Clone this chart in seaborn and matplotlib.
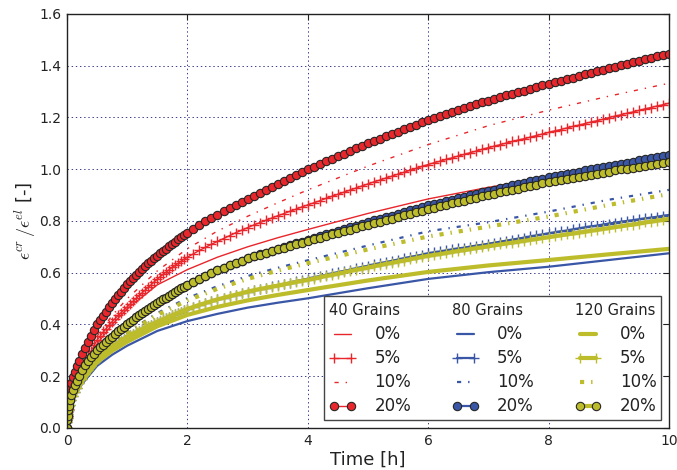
import matplotlib
matplotlib.use("Agg")
import matplotlib.pyplot as plt
import seaborn as sns
from matplotlib.lines import Line2D

# sampling times [h]: dense grid for the marker curves, sparse grid for plain lines
T_DENSE = [0, 0.005, 0.01, 0.02, 0.03, 0.05, 0.07, 0.1, 0.13, 0.16, 0.2, 0.25, 0.3,
           0.35, 0.4, 0.45, 0.5, 0.55, 0.6, 0.65, 0.7, 0.75, 0.8, 0.85, 0.9, 0.95,
           1.0, 1.05, 1.1, 1.15, 1.2, 1.25, 1.3, 1.35, 1.4, 1.45,
           1.5, 1.55, 1.6, 1.65, 1.7, 1.75, 1.8, 1.85, 1.9, 1.95, 2.0,
           2.1, 2.2, 2.3, 2.4, 2.5, 2.6, 2.7, 2.8, 2.9, 3.0,
           3.1, 3.2, 3.3, 3.4, 3.5, 3.6, 3.7, 3.8, 3.9, 4.0,
           4.1, 4.2, 4.3, 4.4, 4.5, 4.6, 4.7, 4.8, 4.9, 5.0,
           5.1, 5.2, 5.3, 5.4, 5.5, 5.6, 5.7, 5.8, 5.9, 6.0,
           6.1, 6.2, 6.3, 6.4, 6.5, 6.6, 6.7, 6.8, 6.9, 7.0,
           7.1, 7.2, 7.3, 7.4, 7.5, 7.6, 7.7, 7.8, 7.9, 8.0,
           8.1, 8.2, 8.3, 8.4, 8.5, 8.6, 8.7, 8.8, 8.9, 9.0,
           9.1, 9.2, 9.3, 9.4, 9.5, 9.6, 9.7, 9.8, 9.9, 10.0]
T_SPARSE = [0, 0.02, 0.05, 0.1, 0.25, 0.5, 0.75, 1, 1.5, 2, 2.5, 3, 3.5, 4, 5, 6, 7, 8, 9, 10]

# 40 grains
R0 = [0, 0.05, 0.10, 0.145, 0.22, 0.325, 0.40, 0.46, 0.553, 0.612, 0.66, 0.70, 0.735, 0.767,
      0.829, 0.885, 0.93, 0.968, 1.005, 1.04]
R5 = [0, 0.03, 0.045, 0.06, 0.075, 0.11, 0.13, 0.155, 0.172, 0.19, 0.21, 0.23, 0.252,
      0.275, 0.297, 0.319, 0.34, 0.355, 0.37, 0.384, 0.398, 0.411, 0.423, 0.435, 0.446, 0.457,
      0.468, 0.479, 0.490, 0.501, 0.512, 0.523, 0.533, 0.544, 0.554, 0.565,
      0.575, 0.585, 0.594, 0.603, 0.612, 0.621, 0.629, 0.637, 0.645, 0.653, 0.660,
      0.673, 0.686, 0.698, 0.710, 0.721, 0.732, 0.743, 0.754, 0.764, 0.774,
      0.784, 0.793, 0.802, 0.811, 0.820, 0.828, 0.837, 0.845, 0.854, 0.862,
      0.870, 0.878, 0.887, 0.895, 0.903, 0.911, 0.919, 0.927, 0.935, 0.943,
      0.951, 0.958, 0.966, 0.973, 0.981, 0.988, 0.996, 1.003, 1.011, 1.018,
      1.025, 1.031, 1.038, 1.044, 1.051, 1.057, 1.064, 1.070, 1.077, 1.083,
      1.089, 1.095, 1.101, 1.107, 1.113, 1.118, 1.124, 1.130, 1.136, 1.142,
      1.148, 1.153, 1.159, 1.165, 1.170, 1.176, 1.182, 1.187, 1.193, 1.199,
      1.205, 1.210, 1.216, 1.221, 1.227, 1.233, 1.238, 1.244, 1.249, 1.255]
R10 = [0, 0.07, 0.12, 0.165, 0.24, 0.355, 0.435, 0.50, 0.607, 0.693, 0.761, 0.818, 0.87, 0.92,
       1.012, 1.095, 1.168, 1.228, 1.282, 1.332]
R20 = [0, 0.045, 0.065, 0.095, 0.115, 0.15, 0.172, 0.198, 0.218, 0.238, 0.26, 0.285, 0.31,
       0.333, 0.355, 0.378, 0.40, 0.417, 0.434, 0.45, 0.466, 0.482, 0.497, 0.512, 0.526, 0.541,
       0.555, 0.568, 0.580, 0.592, 0.604, 0.615, 0.626, 0.636, 0.646, 0.656,
       0.665, 0.675, 0.684, 0.693, 0.702, 0.711, 0.720, 0.729, 0.738, 0.746, 0.755,
       0.770, 0.784, 0.798, 0.811, 0.824, 0.837, 0.849, 0.861, 0.873, 0.885,
       0.897, 0.909, 0.921, 0.932, 0.944, 0.955, 0.967, 0.978, 0.989, 1.000,
       1.010, 1.020, 1.030, 1.040, 1.050, 1.060, 1.070, 1.080, 1.090, 1.100,
       1.109, 1.118, 1.127, 1.136, 1.145, 1.154, 1.163, 1.172, 1.181, 1.190,
       1.198, 1.205, 1.213, 1.220, 1.228, 1.235, 1.243, 1.250, 1.258, 1.265,
       1.272, 1.278, 1.285, 1.291, 1.298, 1.304, 1.311, 1.317, 1.324, 1.330,
       1.336, 1.342, 1.348, 1.354, 1.360, 1.366, 1.372, 1.378, 1.384, 1.390,
       1.396, 1.401, 1.407, 1.413, 1.419, 1.424, 1.430, 1.436, 1.441, 1.447]

# 80 grains
B0 = [0, 0.045, 0.08, 0.11, 0.17, 0.24, 0.283, 0.318, 0.375, 0.413, 0.441, 0.465, 0.484, 0.501,
      0.54, 0.576, 0.602, 0.623, 0.649, 0.675]
B5 = [0, 0.025, 0.038, 0.055, 0.068, 0.09, 0.108, 0.125, 0.14, 0.155, 0.172, 0.19, 0.207,
      0.223, 0.238, 0.252, 0.265, 0.276, 0.286, 0.295, 0.304, 0.313, 0.321, 0.329, 0.337, 0.345,
      0.352, 0.358, 0.364, 0.370, 0.376, 0.382, 0.388, 0.394, 0.399, 0.405,
      0.410, 0.415, 0.420, 0.425, 0.430, 0.435, 0.440, 0.445, 0.450, 0.455, 0.460,
      0.468, 0.476, 0.483, 0.490, 0.497, 0.503, 0.509, 0.515, 0.521, 0.527,
      0.532, 0.537, 0.542, 0.547, 0.552, 0.557, 0.562, 0.567, 0.572, 0.577,
      0.582, 0.587, 0.592, 0.597, 0.602, 0.607, 0.612, 0.617, 0.622, 0.627,
      0.632, 0.637, 0.641, 0.646, 0.651, 0.656, 0.661, 0.665, 0.670, 0.675,
      0.679, 0.682, 0.686, 0.690, 0.694, 0.697, 0.701, 0.705, 0.708, 0.712,
      0.716, 0.720, 0.724, 0.728, 0.732, 0.736, 0.740, 0.744, 0.748, 0.752,
      0.756, 0.760, 0.763, 0.767, 0.771, 0.775, 0.779, 0.782, 0.786, 0.790,
      0.793, 0.797, 0.800, 0.803, 0.806, 0.810, 0.813, 0.816, 0.820, 0.823]
B10 = [0, 0.06, 0.095, 0.13, 0.2, 0.282, 0.33, 0.37, 0.444, 0.502, 0.548, 0.587, 0.619, 0.648,
       0.705, 0.76, 0.795, 0.836, 0.882, 0.92]
B20 = [0, 0.03, 0.045, 0.07, 0.085, 0.11, 0.128, 0.147, 0.165, 0.181, 0.202, 0.224, 0.243,
       0.259, 0.274, 0.287, 0.30, 0.311, 0.322, 0.332, 0.342, 0.353, 0.363, 0.373, 0.382, 0.391,
       0.40, 0.409, 0.418, 0.427, 0.435, 0.443, 0.451, 0.459, 0.467, 0.475,
       0.482, 0.490, 0.497, 0.504, 0.511, 0.518, 0.525, 0.532, 0.539, 0.546, 0.552,
       0.564, 0.576, 0.587, 0.598, 0.609, 0.619, 0.628, 0.637, 0.646, 0.655,
       0.663, 0.671, 0.678, 0.685, 0.692, 0.699, 0.706, 0.713, 0.720, 0.727,
       0.734, 0.741, 0.748, 0.755, 0.761, 0.768, 0.775, 0.782, 0.788, 0.795,
       0.802, 0.808, 0.815, 0.821, 0.828, 0.834, 0.841, 0.847, 0.854, 0.860,
       0.866, 0.871, 0.877, 0.882, 0.888, 0.893, 0.899, 0.904, 0.910, 0.915,
       0.920, 0.926, 0.931, 0.937, 0.942, 0.947, 0.953, 0.958, 0.964, 0.969,
       0.973, 0.978, 0.982, 0.986, 0.991, 0.995, 0.999, 1.003, 1.008, 1.012,
       1.016, 1.021, 1.025, 1.029, 1.034, 1.038, 1.042, 1.046, 1.051, 1.055]

# 120 grains
Y0 = [0, 0.05, 0.085, 0.115, 0.18, 0.255, 0.298, 0.333, 0.393, 0.437, 0.468, 0.493, 0.514, 0.533,
      0.57, 0.603, 0.628, 0.649, 0.671, 0.692]
Y5 = [0, 0.025, 0.038, 0.055, 0.068, 0.09, 0.108, 0.125, 0.14, 0.155, 0.172, 0.19, 0.207,
      0.223, 0.238, 0.252, 0.265, 0.276, 0.286, 0.295, 0.304, 0.313, 0.321, 0.329, 0.337, 0.345,
      0.352, 0.358, 0.364, 0.370, 0.376, 0.382, 0.388, 0.394, 0.399, 0.405,
      0.410, 0.415, 0.420, 0.425, 0.430, 0.435, 0.440, 0.445, 0.450, 0.455, 0.460,
      0.468, 0.476, 0.483, 0.490, 0.497, 0.503, 0.509, 0.515, 0.521, 0.527,
      0.532, 0.537, 0.541, 0.546, 0.550, 0.555, 0.559, 0.564, 0.568, 0.572,
      0.577, 0.582, 0.587, 0.591, 0.596, 0.601, 0.606, 0.611, 0.615, 0.620,
      0.625, 0.629, 0.634, 0.638, 0.643, 0.647, 0.652, 0.656, 0.661, 0.665,
      0.669, 0.672, 0.676, 0.680, 0.684, 0.687, 0.691, 0.695, 0.698, 0.702,
      0.706, 0.709, 0.713, 0.716, 0.720, 0.723, 0.727, 0.730, 0.734, 0.737,
      0.741, 0.744, 0.748, 0.751, 0.755, 0.758, 0.762, 0.765, 0.769, 0.772,
      0.776, 0.779, 0.783, 0.786, 0.790, 0.794, 0.797, 0.801, 0.804, 0.808]
Y10 = [0, 0.06, 0.095, 0.13, 0.2, 0.28, 0.325, 0.365, 0.437, 0.493, 0.538, 0.576, 0.608, 0.637,
       0.69, 0.74, 0.778, 0.817, 0.862, 0.904]
Y20 = [0, 0.03, 0.045, 0.07, 0.085, 0.11, 0.128, 0.147, 0.165, 0.181, 0.202, 0.224, 0.243,
       0.259, 0.274, 0.287, 0.30, 0.311, 0.322, 0.332, 0.342, 0.353, 0.363, 0.373, 0.382, 0.391,
       0.40, 0.409, 0.418, 0.427, 0.435, 0.443, 0.451, 0.459, 0.467, 0.475,
       0.482, 0.490, 0.497, 0.504, 0.511, 0.518, 0.525, 0.532, 0.539, 0.546, 0.552,
       0.564, 0.576, 0.587, 0.598, 0.609, 0.619, 0.628, 0.637, 0.646, 0.655,
       0.663, 0.670, 0.677, 0.684, 0.690, 0.697, 0.703, 0.710, 0.716, 0.722,
       0.729, 0.735, 0.741, 0.748, 0.754, 0.760, 0.766, 0.773, 0.779, 0.785,
       0.791, 0.797, 0.803, 0.809, 0.815, 0.822, 0.828, 0.834, 0.840, 0.846,
       0.851, 0.857, 0.862, 0.868, 0.873, 0.879, 0.884, 0.889, 0.895, 0.900,
       0.905, 0.910, 0.915, 0.920, 0.925, 0.930, 0.935, 0.940, 0.945, 0.950,
       0.954, 0.958, 0.962, 0.966, 0.970, 0.975, 0.979, 0.983, 0.987, 0.991,
       0.995, 0.999, 1.002, 1.006, 1.010, 1.014, 1.018, 1.021, 1.025, 1.029]

GROUP_NAMES = ["40 Grains", "80 Grains", "120 Grains"]
PCT_LABELS = ["0%", "5%", "10%", "20%"]
X_TICKS = [0, 2, 4, 6, 8, 10]
Y_TICKS = [0.0, 0.2, 0.4, 0.6, 0.8, 1.0, 1.2, 1.4, 1.6]

sns.set_style("white")
plt.rcParams.update({
    "font.family": ["DejaVu Sans"],
    "mathtext.fontset": "cm",
    "lines.scale_dashes": False,
    "text.color": "#222222",
    "axes.labelcolor": "#222222",
    "xtick.color": "#222222",
    "ytick.color": "#222222",
})

colors = ["#e8262b", "#3a56a6", "#bdbd2c"]
widths = [1.0, 1.6, 3.0]
series = [(R0, R5, R10, R20), (B0, B5, B10, B20), (Y0, Y5, Y10, Y20)]
dashdot = (0, (3, 5, 1, 5))

fig = plt.figure(figsize=(6.77, 4.70), dpi=100)
ax = fig.add_axes([0.099, 0.0894, 0.889, 0.881])

group_lines = []
for color, lw, (s0, s5, s10, s20) in zip(colors, widths, series):
    lines = []
    sns.lineplot(x=T_SPARSE, y=s0, ax=ax, color=color, lw=lw, linestyle="-",
                 sort=False, errorbar=None, legend=False)
    lines.append(ax.lines[-1])
    sns.lineplot(x=T_DENSE, y=s5, ax=ax, color=color, lw=lw, linestyle="-",
                 marker="+", markersize=6.5, markeredgewidth=1.0, markeredgecolor=color,
                 sort=False, errorbar=None, legend=False)
    lines.append(ax.lines[-1])
    sns.lineplot(x=T_SPARSE, y=s10, ax=ax, color=color, lw=lw, linestyle=dashdot,
                 sort=False, errorbar=None, legend=False)
    lines.append(ax.lines[-1])
    sns.lineplot(x=T_DENSE, y=s20, ax=ax, color=color, lw=lw, linestyle="-",
                 marker="o", markersize=6, markerfacecolor=color,
                 markeredgecolor="#262626", markeredgewidth=0.8,
                 sort=False, errorbar=None, legend=False)
    lines.append(ax.lines[-1])
    group_lines.append(lines)

ax.set_xlim(0, 10)
ax.set_ylim(0, 1.6)
ax.set_xticks(X_TICKS)
ax.set_xticklabels([str(v) for v in X_TICKS])
ax.set_yticks(Y_TICKS)
ax.set_yticklabels([f"{v:.1f}" for v in Y_TICKS])
ax.tick_params(direction="in", length=4, width=0.8, top=True, right=True,
               labelsize=10, pad=4)
ax.grid(True, linestyle=(0, (1, 2)), color="#3b3b8f", lw=0.7)
ax.set_axisbelow(True)
for sp in ax.spines.values():
    sp.set_color("#222222")
    sp.set_linewidth(1.0)

ax.set_xlabel("Time [h]", fontsize=13, labelpad=2)
ax.set_ylabel(r"$\epsilon^{cr}\,/\epsilon^{el}$ [-]", fontsize=13, labelpad=1)

# legend: one column per grain count, header row left blank and written afterwards
handles, labels = [], []
for lines in group_lines:
    handles.append(Line2D([], [], linestyle="none"))
    labels.append(" ")
    for pct, line in zip(PCT_LABELS, lines):
        handles.append(line)
        labels.append(pct)

hlen, hpad, fs = 1.6, 1.1, 12
leg = ax.legend(handles, labels, ncol=3, loc="lower right", fontsize=fs, numpoints=2,
                handlelength=hlen, handletextpad=hpad, columnspacing=2.45,
                labelspacing=0.36, borderaxespad=0.45, borderpad=0.3,
                fancybox=False, framealpha=1, edgecolor="#444444")
leg.get_frame().set_linewidth(1.0)

fig.canvas.draw()
renderer = fig.canvas.get_renderer()
shift = (hlen + hpad) * fs * fig.dpi / 72
fw, fh = fig.bbox.width, fig.bbox.height
texts = leg.get_texts()
for i, name in zip((0, 5, 10), GROUP_NAMES):
    bb = texts[i].get_window_extent(renderer)
    fig.text((bb.x0 - shift) / fw, (bb.y0 + bb.y1) / 2 / fh, name,
             fontsize=10.5, ha="left", va="center", zorder=10)

fig.savefig("out.png", dpi=100)
